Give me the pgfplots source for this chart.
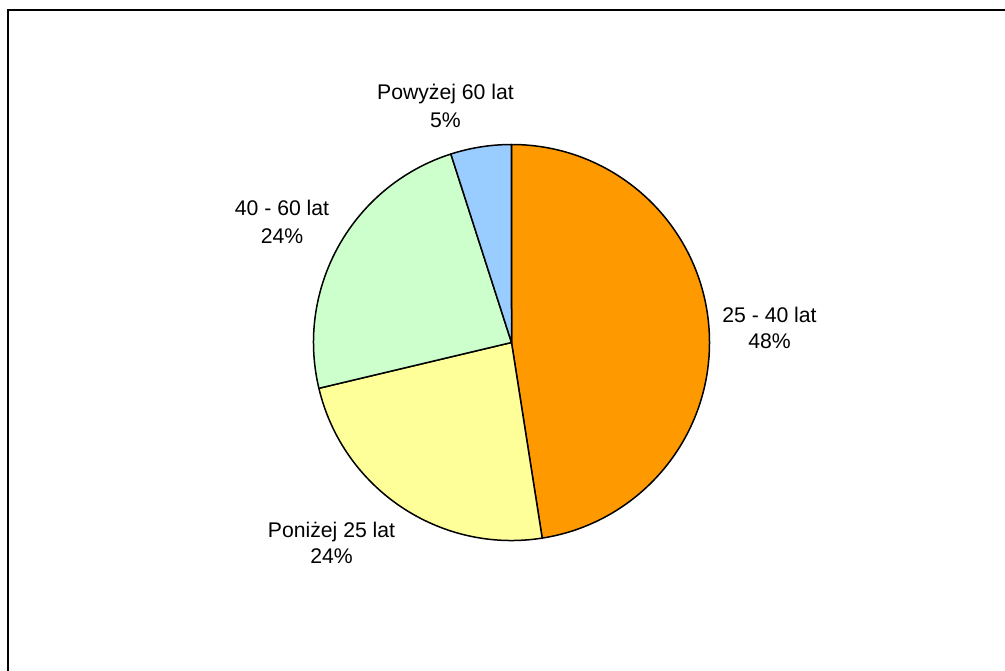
\documentclass[border=0pt]{standalone}
\usepackage{pgfplots}
\pgfplotsset{compat=1.18}
\usepackage{pgfplotstable}
\usepackage{fontspec}
\setmainfont{Liberation Sans}

\definecolor{sliceA}{HTML}{FF9900}
\definecolor{sliceB}{HTML}{FFFF99}
\definecolor{sliceC}{HTML}{CCFFCC}
\definecolor{sliceD}{HTML}{99CCFF}

% age groups, clockwise from the top
\pgfplotstableread{
share
48
24
24
5
}\agedata

% slice boundaries (degrees), clockwise from 90
\pgfplotstablegetelem{0}{share}\of\agedata \let\sA\pgfplotsretval
\pgfplotstablegetelem{1}{share}\of\agedata \let\sB\pgfplotsretval
\pgfplotstablegetelem{2}{share}\of\agedata \let\sC\pgfplotsretval
\pgfplotstablegetelem{3}{share}\of\agedata \let\sD\pgfplotsretval
\pgfmathsetmacro{\total}{\sA+\sB+\sC+\sD}
\pgfmathsetmacro{\angA}{90}
\pgfmathsetmacro{\angB}{\angA-360*(\sA/\total)}
\pgfmathsetmacro{\angC}{\angB-360*(\sB/\total)}
\pgfmathsetmacro{\angD}{\angC-360*(\sC/\total)}
\pgfmathsetmacro{\angE}{\angD-360*(\sD/\total)}

\begin{document}
\begin{tikzpicture}
\useasboundingbox (0,0) rectangle (502.5pt,335pt);
\clip (0,0) rectangle (502.5pt,335pt);
\begin{axis}[
  x=0.5pt, y=0.5pt,
  xmin=0, xmax=1005, ymin=0, ymax=670,
  anchor=origin, at={(0,0)},
  hide axis, clip=false,
]
\coordinate (c) at (axis cs:511.5,327.5);
\filldraw[fill=sliceA, draw=black, line width=0.75pt, line join=round]
  (c) -- ++(\angA:99pt) arc[start angle=\angA, end angle=\angB, radius=99pt] -- cycle;
\filldraw[fill=sliceB, draw=black, line width=0.75pt, line join=round]
  (c) -- ++(\angB:99pt) arc[start angle=\angB, end angle=\angC, radius=99pt] -- cycle;
\filldraw[fill=sliceC, draw=black, line width=0.75pt, line join=round]
  (c) -- ++(\angC:99pt) arc[start angle=\angC, end angle=\angD, radius=99pt] -- cycle;
\filldraw[fill=sliceD, draw=black, line width=0.75pt, line join=round]
  (c) -- ++(\angD:99pt) arc[start angle=\angD, end angle=\angE, radius=99pt] -- cycle;
% chart area frame
\draw[line width=1pt, black] (axis cs:8,-40) |- (axis cs:1040,659.5);
\begin{scope}[every node/.style={font=\fontsize{10.6}{13}\selectfont, anchor=base, inner sep=0pt}]
  \node at (axis cs:445.5,570) {Powyżej 60 lat};
  \node at (axis cs:445.5,542) {5\%};
  \node at (axis cs:282,455) {40 - 60 lat};
  \node at (axis cs:282,427) {24\%};
  \node at (axis cs:769.5,348) {25 - 40 lat};
  \node at (axis cs:769.5,322) {48\%};
  \node at (axis cs:331.5,133) {Poniżej 25 lat};
  \node at (axis cs:331.5,107) {24\%};
\end{scope}
\end{axis}
\end{tikzpicture}
\end{document}
